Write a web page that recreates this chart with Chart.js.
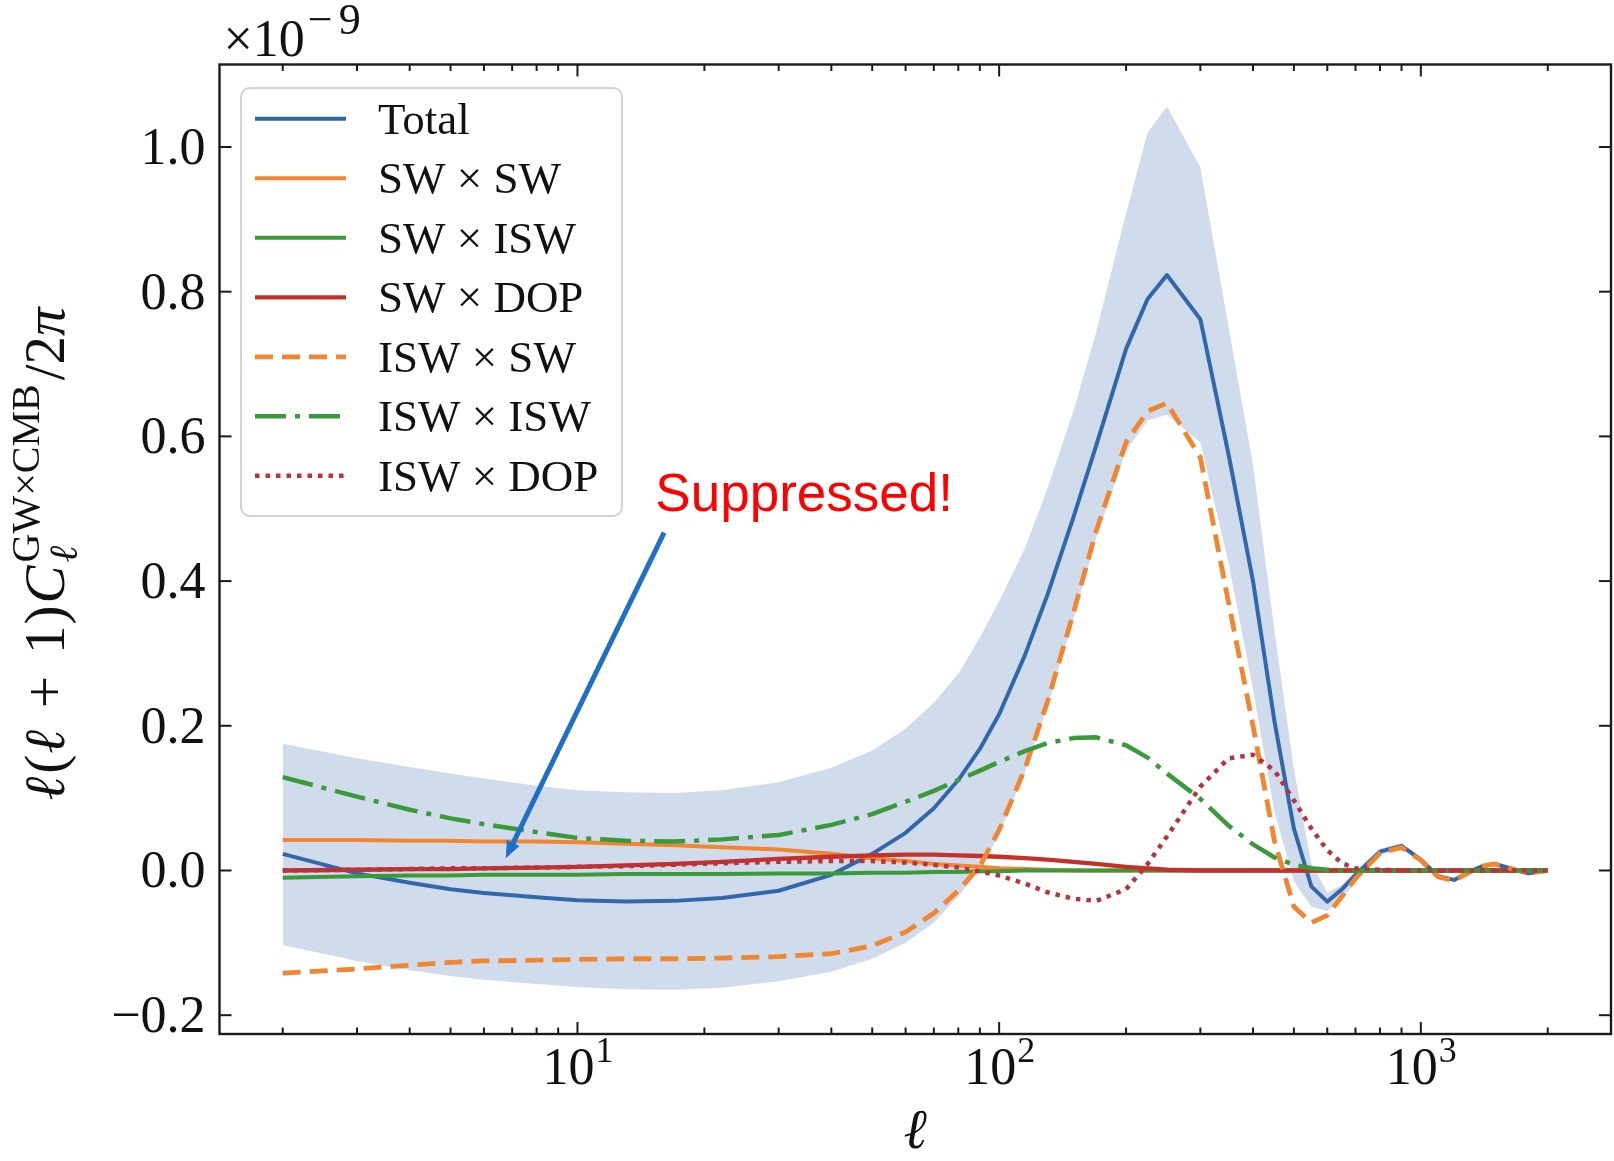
<!DOCTYPE html>
<html>
<head>
<meta charset="utf-8">
<title>GW x CMB cross spectrum</title>
<script src="https://cdn.jsdelivr.net/npm/chart.js@4/dist/chart.umd.min.js"></script>
<style>
  html, body { margin: 0; padding: 0; background: #fff; }
  #wrap { width: 1614px; height: 1161px; }
</style>
</head>
<body>
<div id="wrap"><canvas id="cl" width="1614" height="1161"></canvas></div>
<script>
// multipoles
const ells = [2, 3, 4, 5, 6, 8, 10, 13, 17, 22, 30, 40, 50, 60, 70, 80, 90, 100,
  115, 130, 150, 170, 200, 225, 250, 300, 350, 400, 450, 500, 550, 600, 650, 700,
  800, 900, 1000, 1100, 1200, 1300, 1400, 1500, 1650, 1800, 2000];

// l(l+1)C_l/2pi in units of 1e-9
const total = [0.023, -0.004, -0.017, -0.026, -0.031, -0.037, -0.041, -0.043, -0.042, -0.038, -0.028, -0.006, 0.023, 0.052, 0.086, 0.125, 0.168, 0.216,
  0.297, 0.380, 0.488, 0.588, 0.721, 0.790, 0.823, 0.762, 0.575, 0.400, 0.205, 0.058, -0.022, -0.043, -0.026, -0.006,
  0.026, 0.034, 0.015, -0.008, -0.013, -0.002, 0.006, 0.009, 0.002, -0.004, 0.0];
const swSw = [0.042, 0.042, 0.041, 0.041, 0.040, 0.040, 0.039, 0.037, 0.035, 0.032, 0.029, 0.023, 0.017, 0.013, 0.009, 0.007, 0.005, 0.003,
  0.002, 0.001, 0, 0, 0, 0, 0, 0, 0, 0, 0, 0, 0, 0, 0, 0,
  0, 0, 0, 0, 0, 0, 0, 0, 0, 0, 0];
const swIsw = [-0.010, -0.008, -0.007, -0.007, -0.006, -0.006, -0.006, -0.005, -0.005, -0.005, -0.004, -0.004, -0.003, -0.003, -0.002, -0.002, -0.001, -0.001,
  0, 0, 0, 0, 0, 0, 0, 0, 0, 0, 0, 0, 0, 0, 0, 0,
  0, 0, 0, 0, 0, 0, 0, 0, 0, 0, 0];
const swDop = [0.000, 0.001, 0.002, 0.002, 0.003, 0.004, 0.005, 0.007, 0.009, 0.012, 0.016, 0.019, 0.021, 0.022, 0.022, 0.021, 0.020, 0.019,
  0.017, 0.015, 0.012, 0.009, 0.005, 0.003, 0.001, 0, 0, 0, 0, 0, 0, 0, 0, 0,
  0, 0, 0, 0, 0, 0, 0, 0, 0, 0, 0];
const iswSw = [-0.142, -0.136, -0.131, -0.127, -0.125, -0.124, -0.123, -0.122, -0.122, -0.121, -0.119, -0.115, -0.104, -0.085, -0.059, -0.028, 0.006, 0.056,
  0.140, 0.232, 0.356, 0.470, 0.592, 0.635, 0.646, 0.571, 0.370, 0.200, 0.040, -0.050, -0.072, -0.062, -0.036, -0.011,
  0.024, 0.032, 0.014, -0.009, -0.014, -0.003, 0.006, 0.009, 0.002, -0.004, 0.0];
const iswIsw = [0.129, 0.102, 0.084, 0.072, 0.064, 0.053, 0.045, 0.041, 0.040, 0.043, 0.049, 0.063, 0.078, 0.095, 0.110, 0.125, 0.138, 0.150,
  0.165, 0.176, 0.183, 0.184, 0.173, 0.156, 0.134, 0.099, 0.062, 0.036, 0.018, 0.008, 0.003, 0.001, 0, 0,
  0, 0, 0, 0, 0, 0, 0, 0, 0, 0, 0];
const iswDop = [0.000, 0.001, 0.002, 0.003, 0.003, 0.004, 0.005, 0.006, 0.008, 0.010, 0.012, 0.013, 0.013, 0.011, 0.008, 0.004, -0.001, -0.007,
  -0.018, -0.030, -0.039, -0.042, -0.026, 0.009, 0.047, 0.116, 0.155, 0.160, 0.138, 0.097, 0.058, 0.028, 0.010, 0.003,
  0.001, 0, 0, 0, 0, 0, 0, 0, 0, 0, 0];

// 1-sigma band around the total
const bandUpper = [0.175, 0.155, 0.143, 0.134, 0.127, 0.117, 0.111, 0.108, 0.107, 0.111, 0.122, 0.142, 0.166, 0.196, 0.232, 0.272, 0.322, 0.372,
  0.445, 0.527, 0.635, 0.745, 0.908, 1.020, 1.056, 0.972, 0.752, 0.560, 0.330, 0.140, 0.010, -0.030, -0.020, 0.000,
  0.030, 0.038, 0.018, -0.006, -0.011, 0.000, 0.007, 0.010, 0.003, -0.003, 0.001];
const bandLower = [-0.103, -0.125, -0.138, -0.146, -0.151, -0.157, -0.161, -0.164, -0.165, -0.162, -0.153, -0.140, -0.122, -0.100, -0.072, -0.036, 0.002, 0.050,
  0.135, 0.225, 0.348, 0.460, 0.580, 0.622, 0.630, 0.592, 0.425, 0.250, 0.080, -0.015, -0.050, -0.056, -0.040, -0.016,
  0.021, 0.030, 0.012, -0.010, -0.015, -0.004, 0.005, 0.008, 0.001, -0.005, -0.001];

const yTicks = [-0.2, 0, 0.2, 0.4, 0.6, 0.8, 1.0];
const yTickLabels = ['\u22120.2', '0.0', '0.2', '0.4', '0.6', '0.8', '1.0'];
const xTicks = [10, 100, 1000];
const xTickExps = ['1', '2', '3'];

const SERIF = "'Liberation Serif', 'DejaVu Serif', serif";
const BLUE = '#3268ab', ORANGE = '#f2852f', GREEN = '#3a9a3a', RED = '#c4302b', DOTRED = '#b8333f';

// annotation anchors in data coordinates (ell, value)
const note = { text: 'Suppressed!', at: [15.3, 0.4975], from: [16.05, 0.467], tip: [6.76, 0.017] };

const pts = vals => ells.map((l, i) => ({ x: l, y: vals[i] }));

const curve = (label, vals, color, dash, width, order) => ({
  label, data: pts(vals), borderColor: color, borderWidth: width, borderDash: dash,
  pointRadius: 0, fill: false, tension: 0, borderJoinStyle: 'round', order
});

const curves = [
  curve('Total', total, BLUE, [], 4, 7),
  curve('SW \u00d7 SW', swSw, ORANGE, [], 4, 6),
  curve('SW \u00d7 ISW', swIsw, GREEN, [], 4, 5),
  curve('SW \u00d7 DOP', swDop, RED, [], 4.3, 4),
  curve('ISW \u00d7 SW', iswSw, ORANGE, [18, 9], 4.8, 3),
  curve('ISW \u00d7 ISW', iswIsw, GREEN, [31, 9, 5, 9], 4.5, 2),
  curve('ISW \u00d7 DOP', iswDop, DOTRED, [4.5, 6], 4.5, 1)
];

const band = [
  { data: pts(bandUpper), borderWidth: 0, pointRadius: 0, fill: '+1',
    backgroundColor: 'rgba(50,104,171,0.23)', order: 9 },
  { data: pts(bandLower), borderWidth: 0, pointRadius: 0, fill: false, order: 8 }
];

// draw a run of text pieces; pieces with hold:true do not advance the pen
function textRun(ctx, parts, x0, y0, draw) {
  let x = x0;
  for (const p of parts) {
    ctx.font = p.f;
    const w = ctx.measureText(p.t).width;
    if (draw) ctx.fillText(p.t, x + (p.dx || 0), y0 + (p.dy || 0));
    if (!p.hold) x += w + (p.gap || 0);
  }
  return x - x0;
}

const frame = {
  id: 'frame',
  afterDraw(chart) {
    const { ctx, chartArea: a } = chart;
    const x = chart.scales.x, y = chart.scales.y;
    ctx.save();
    ctx.strokeStyle = '#1a1a1a';
    ctx.fillStyle = '#111';
    ctx.lineWidth = 2;
    const seg = (x0, y0, x1, y1) => { ctx.beginPath(); ctx.moveTo(x0, y0); ctx.lineTo(x1, y1); ctx.stroke(); };

    // inward ticks on all four sides
    for (let d = 1; d <= 1000; d *= 10) {
      for (let m = 1; m < 10; m++) {
        const v = m * d;
        if (v < x.min || v > x.max) continue;
        const px = x.getPixelForValue(v);
        const len = m === 1 ? 12 : 6.5;
        seg(px, a.bottom, px, a.bottom - len);
        seg(px, a.top, px, a.top + len);
      }
    }
    yTicks.forEach(v => {
      const py = y.getPixelForValue(v);
      seg(a.left, py, a.left + 12, py);
      seg(a.right, py, a.right - 12, py);
    });
    ctx.lineWidth = 2.4;
    ctx.strokeRect(a.left, a.top, a.right - a.left, a.bottom - a.top);

    // tick labels
    ctx.textBaseline = 'alphabetic';
    ctx.textAlign = 'right';
    ctx.font = `52px ${SERIF}`;
    yTicks.forEach((v, i) => ctx.fillText(yTickLabels[i], a.left - 14, y.getPixelForValue(v) + 17));
    ctx.textAlign = 'left';
    xTicks.forEach((v, i) => {
      const parts = [{ t: '10', f: `52px ${SERIF}` }, { t: xTickExps[i], f: `36px ${SERIF}`, dy: -22, dx: 1 }];
      const w = textRun(ctx, parts, 0, 0, false);
      textRun(ctx, parts, x.getPixelForValue(v) - w / 2, a.bottom + 50, true);
    });

    // offset text above the y axis
    textRun(ctx, [
      { t: '\u00d710', f: `52px ${SERIF}`, gap: 3 },
      { t: '\u2212', f: `44px ${SERIF}`, dy: -22, gap: 6 },
      { t: '9', f: `44px ${SERIF}`, dy: -22 }
    ], a.left + 4, a.top - 9, true);

    // x title
    ctx.textAlign = 'center';
    ctx.font = `italic 56px ${SERIF}`;
    ctx.fillText('\u2113', (a.left + a.right) / 2, a.bottom + 114);

    // y title, rotated
    ctx.textAlign = 'left';
    const it = `italic 57px ${SERIF}`, up = `57px ${SERIF}`;
    const yParts = [
      { t: '\u2113', f: it, gap: 3 }, { t: '(', f: up, gap: 1 }, { t: '\u2113', f: it, gap: 22 },
      { t: '+', f: up, gap: 22 }, { t: '1', f: up, gap: 1 }, { t: ')', f: up, gap: 2 },
      { t: 'C', f: it, gap: 3 },
      { t: '\u2113', f: `italic 40px ${SERIF}`, dy: 13, hold: true },
      { t: 'GW\u00d7CMB', f: `40px ${SERIF}`, dy: -25, gap: 4 },
      { t: '/2', f: up }, { t: '\u03c0', f: it }
    ];
    const yw = textRun(ctx, yParts, 0, 0, false);
    ctx.save();
    ctx.translate(64, 554);
    ctx.rotate(-Math.PI / 2);
    textRun(ctx, yParts, -yw / 2, 0, true);
    ctx.restore();

    // legend
    const L = { x: a.left + 21.5, y: a.top + 23.5, w: 381, h: 428 };
    ctx.beginPath();
    ctx.roundRect(L.x, L.y, L.w, L.h, 9);
    ctx.fillStyle = 'rgba(255,255,255,0.85)';
    ctx.fill();
    ctx.strokeStyle = '#d2d2d2';
    ctx.lineWidth = 2;
    ctx.stroke();
    ctx.font = `45px ${SERIF}`;
    ctx.fillStyle = '#111';
    ctx.textBaseline = 'alphabetic';
    curves.forEach((c, i) => {
      const ly = a.top + 54.3 + i * 59.5;
      ctx.strokeStyle = c.borderColor;
      ctx.lineWidth = c.borderWidth;
      ctx.setLineDash(c.borderDash);
      seg(L.x + 14, ly, L.x + 105, ly);
      ctx.setLineDash([]);
      ctx.fillText(c.label, L.x + 137, ly + 15);
    });

    // annotation with arrow
    const px = p => [x.getPixelForValue(p[0]), y.getPixelForValue(p[1])];
    const [tx, ty] = px(note.at);
    ctx.fillStyle = '#ff0000';
    ctx.font = "53px 'Liberation Sans', Arial, sans-serif";
    ctx.fillText(note.text, tx, ty);
    const [fx, fy] = px(note.from), [hx, hy] = px(note.tip);
    const ang = Math.atan2(hy - fy, hx - fx);
    ctx.strokeStyle = '#1f6fc4';
    ctx.fillStyle = '#1f6fc4';
    ctx.lineWidth = 5;
    seg(fx, fy, hx - 10 * Math.cos(ang), hy - 10 * Math.sin(ang));
    ctx.beginPath();
    ctx.moveTo(hx, hy);
    ctx.lineTo(hx - 17 * Math.cos(ang) + 7 * Math.sin(ang), hy - 17 * Math.sin(ang) - 7 * Math.cos(ang));
    ctx.lineTo(hx - 17 * Math.cos(ang) - 7 * Math.sin(ang), hy - 17 * Math.sin(ang) + 7 * Math.cos(ang));
    ctx.closePath();
    ctx.fill();
    ctx.restore();
  }
};

new Chart(document.getElementById('cl'), {
  type: 'line',
  data: { datasets: [...curves, ...band] },
  options: {
    responsive: false,
    animation: false,
    events: [],
    layout: { padding: { left: 219.5, top: 64.5, right: 3, bottom: 127 } },
    scales: {
      x: { type: 'logarithmic', min: 1.416, max: 2825, display: false },
      y: { type: 'linear', min: -0.226, max: 1.114, display: false }
    },
    plugins: { legend: { display: false }, tooltip: { enabled: false } }
  },
  plugins: [frame]
});
</script>
</body>
</html>
